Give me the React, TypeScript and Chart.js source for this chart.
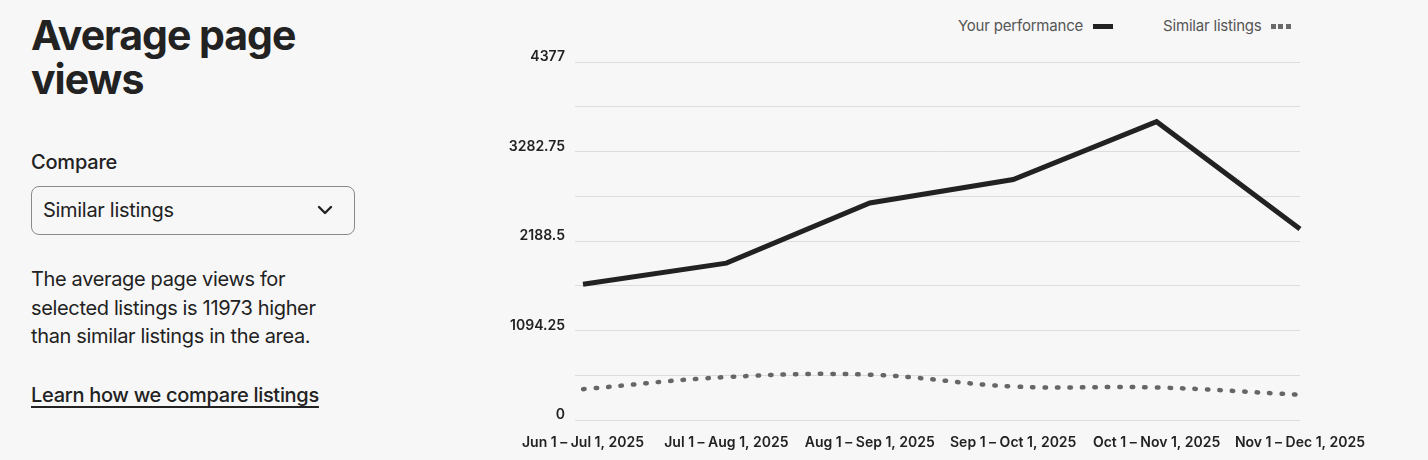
import React, { useEffect, useRef } from "react";
import { Chart, registerables } from "chart.js";

Chart.register(...registerables);

const periods = [
  "Jun 1 – Jul 1, 2025",
  "Jul 1 – Aug 1, 2025",
  "Aug 1 – Sep 1, 2025",
  "Sep 1 – Oct 1, 2025",
  "Oct 1 – Nov 1, 2025",
  "Nov 1 – Dec 1, 2025",
];
const yourPerformance = [1661, 1919, 2655, 2941, 3648, 2336];
const similarListings = [379, 527, 556, 412, 400, 311];
const yMax = 4377;
const yStep = 547.125;

const FONT = "Inter, 'Noto Sans', sans-serif";

export default function App() {
  const canvasRef = useRef<HTMLCanvasElement | null>(null);

  useEffect(() => {
    const el = canvasRef.current;
    if (!el) return;
    const chart = new Chart(el, {
      type: "line",
      data: {
        labels: periods,
        datasets: [
          {
            label: "Your performance",
            data: yourPerformance,
            borderColor: "#222222",
            borderWidth: 5,
            pointRadius: 0,
            tension: 0,
            borderJoinStyle: "miter",
          },
          {
            label: "Similar listings",
            data: similarListings,
            borderColor: "#666666",
            borderWidth: 4.5,
            borderDash: [1.5, 11],
            borderCapStyle: "round",
            pointRadius: 0,
            tension: 0.4,
          },
        ],
      },
      options: {
        animation: false,
        responsive: false,
        maintainAspectRatio: false,
        layout: { padding: { top: 62, right: 128, bottom: 0, left: 0 } },
        plugins: { legend: { display: false }, tooltip: { enabled: false } },
        scales: {
          x: {
            grid: { display: false },
            border: { display: false },
            ticks: {
              color: "#222222",
              font: { family: FONT, size: 14, weight: 600 },
              padding: 6,
              maxRotation: 0,
              autoSkip: false,
            },
          },
          y: {
            min: 0,
            max: yMax,
            afterFit: (scale: any) => {
              scale.width = 93;
            },
            afterBuildTicks: (scale: any) => {
              const t = [];
              for (let i = 0; i <= 8; i++) t.push({ value: yStep * i });
              scale.ticks = t;
            },
            border: { display: false },
            grid: {
              color: "#dddddd",
              lineWidth: 1,
              drawTicks: true,
              tickLength: 8,
            },
            ticks: {
              color: "#222222",
              font: { family: FONT, size: 14, weight: 600 },
              padding: 10,
              labelOffset: -5,
              callback: (v: any, i: number) =>
                i % 2 === 0 ? String(Math.round(Number(v) * 100) / 100) : "",
            },
          },
        },
      },
    });
    return () => chart.destroy();
  }, []);

  const text: React.CSSProperties = { fontFamily: FONT, color: "#222222" };

  return (
    <div
      style={{
        position: "fixed",
        inset: 0,
        width: 1428,
        height: 460,
        background: "#f7f7f7",
        overflow: "hidden",
      }}
    >
      <div
        style={{
          ...text,
          position: "absolute",
          left: 31,
          top: 13,
          fontSize: 41,
          fontWeight: 700,
          lineHeight: "44px",
          letterSpacing: "-1px",
          width: 330,
        }}
      >
        Average page
        <br />
        views
      </div>
      <div
        style={{
          ...text,
          position: "absolute",
          left: 31,
          top: 149,
          fontSize: 20,
          fontWeight: 500,
          lineHeight: "26px",
          letterSpacing: "-0.2px",
        }}
      >
        Compare
      </div>
      <div
        style={{
          position: "absolute",
          left: 31,
          top: 186,
          width: 322,
          height: 47,
          border: "1px solid #8a8a8a",
          borderRadius: 8,
          boxSizing: "content-box",
        }}
      >
        <div
          style={{
            ...text,
            position: "absolute",
            left: 11,
            top: 10,
            fontSize: 20,
            lineHeight: "26px",
            letterSpacing: "-0.3px",
          }}
        >
          Similar listings
        </div>
        <svg
          style={{ position: "absolute", left: 285, top: 17 }}
          width="16"
          height="12"
          viewBox="0 0 16 12"
        >
          <path
            d="M2 3 L8 9 L14 3"
            fill="none"
            stroke="#222"
            strokeWidth="2.4"
            strokeLinecap="round"
            strokeLinejoin="round"
          />
        </svg>
      </div>
      <div
        style={{
          ...text,
          position: "absolute",
          left: 31,
          top: 265,
          fontSize: 20,
          lineHeight: "28.5px",
          letterSpacing: "-0.35px",
          width: 330,
        }}
      >
        The average page views for
        <br />
        selected listings is 11973 higher
        <br />
        than similar listings in the area.
      </div>
      <div
        style={{
          ...text,
          position: "absolute",
          left: 31,
          top: 381,
          fontSize: 20,
          fontWeight: 500,
          lineHeight: "28px",
          letterSpacing: "-0.3px",
          textDecoration: "underline",
          textUnderlineOffset: "4px",
          textDecorationThickness: "1.5px",
        }}
      >
        Learn how we compare listings
      </div>

      <div
        style={{
          position: "absolute",
          left: 958,
          top: 15,
          fontFamily: FONT,
          fontSize: 15,
          color: "#555555",
          lineHeight: "22px",
          letterSpacing: "-0.2px",
          display: "flex",
          alignItems: "center",
        }}
      >
        <span>Your performance</span>
        <span
          style={{
            display: "inline-block",
            width: 20,
            height: 5,
            background: "#222222",
            marginLeft: 10,
          }}
        />
        <span style={{ marginLeft: 50 }}>Similar listings</span>
        <span style={{ display: "inline-flex", marginLeft: 9, gap: 2.5 }}>
          <span style={{ width: 5, height: 5, background: "#6a6a6a" }} />
          <span style={{ width: 5, height: 5, background: "#6a6a6a" }} />
          <span style={{ width: 5, height: 5, background: "#6a6a6a" }} />
        </span>
      </div>

      <canvas
        ref={canvasRef}
        width={938}
        height={457}
        style={{ position: "absolute", left: 490, top: 0, width: 938, height: 457 }}
      />
    </div>
  );
}
